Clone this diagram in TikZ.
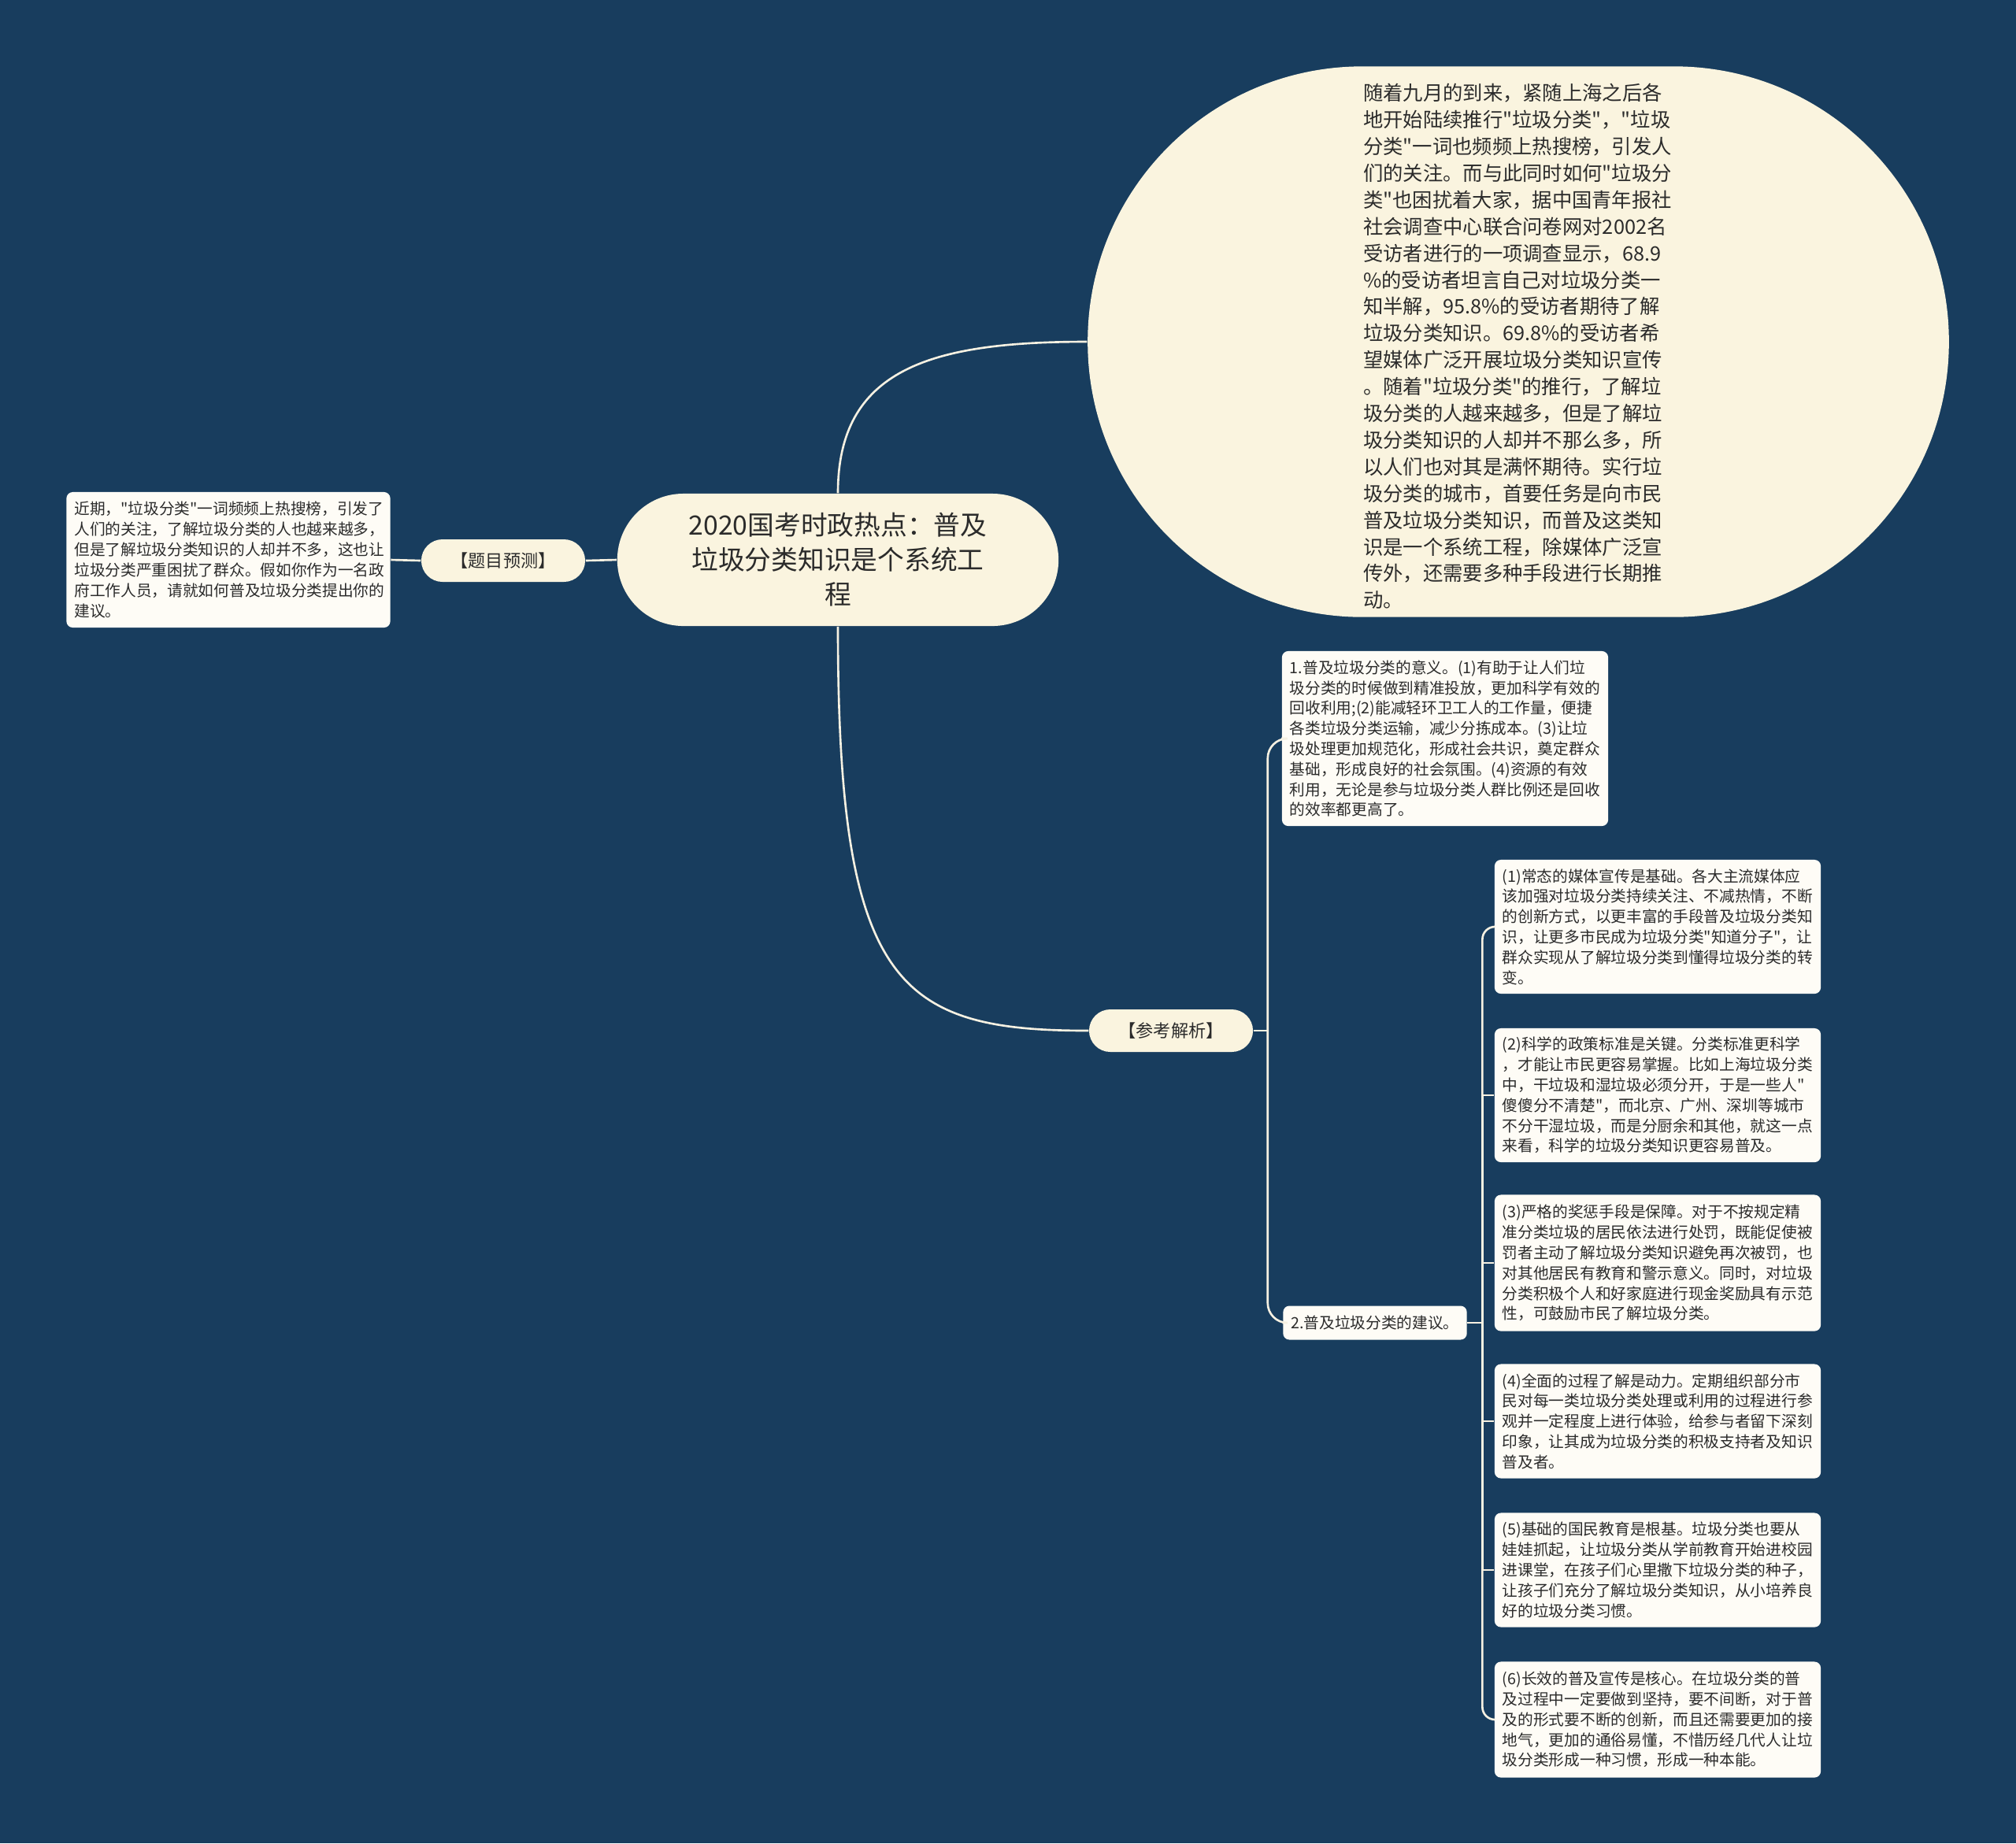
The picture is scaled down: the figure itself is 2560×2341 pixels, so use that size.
\documentclass[tikz,border=0pt]{standalone}
\usepackage{fontspec}
\newfontfamily\cjkfont{Noto Sans CJK SC}
\usetikzlibrary{calc}
\definecolor{mapbg}{HTML}{183D5E}
\definecolor{cream}{HTML}{FAF4DF}
\definecolor{paper}{HTML}{FEFCF6}
\definecolor{wire}{HTML}{F6F1E2}
\definecolor{ink}{HTML}{2B2B2B}
\newcommand{\mapfont}[2]{\cjkfont\fontsize{#1}{#2}\selectfont}
\tikzset{
  rootnode/.style={fill=cream,rounded corners=0.84cm,minimum width=5.6cm,
    minimum height=1.68cm,inner sep=0pt,align=center,text=ink,
    font=\mapfont{9.6}{12.5}},
  bubble/.style={fill=cream,rounded corners=3.49cm,minimum width=10.93cm,
    minimum height=6.99cm,inner sep=0pt},
  bubbletext/.style={align=left,inner sep=0pt,text=ink,
    font=\mapfont{7.2}{9.64}},
  tag/.style={fill=cream,rounded corners=0.27cm,minimum width=2.08cm,
    minimum height=0.54cm,inner sep=0pt,text=ink,font=\mapfont{6.3}{7.5}},
  notebox/.style={fill=paper,rounded corners=0.08cm,inner xsep=0.1cm,
    inner ysep=0.03cm,align=left,text=ink,font=\mapfont{5.6}{7.34}},
  note/.style={notebox,text width=3.94cm},
  link/.style={draw=wire,line width=0.75pt},
}

\begin{document}
\begin{tikzpicture}[x=0.01cm,y=-0.01cm]
  \fill[mapbg] (0,0) rectangle (2560,2341);
  % centre and first level
  \node[rootnode] (root) at (1064,711) {2020国考时政热点：普及\\垃圾分类知识是个系统工\\程};
  \node[bubble] (intro) at (1928,434) {};
  \node[bubbletext] at (1927,440) {随着九月的到来，紧随上海之后各\\地开始陆续推行"垃圾分类"，"垃圾\\分类"一词也频频上热搜榜，引发人\\们的关注。而与此同时如何"垃圾分\\类"也困扰着大家，据中国青年报社\\社会调查中心联合问卷网对2002名\\受访者进行的一项调查显示，68.9\\\%的受访者坦言自己对垃圾分类一\\知半解，95.8\%的受访者期待了解\\垃圾分类知识。69.8\%的受访者希\\望媒体广泛开展垃圾分类知识宣传\\。随着"垃圾分类"的推行，了解垃\\圾分类的人越来越多，但是了解垃\\圾分类知识的人却并不那么多，所\\以人们也对其是满怀期待。实行垃\\圾分类的城市，首要任务是向市民\\普及垃圾分类知识，而普及这类知\\识是一个系统工程，除媒体广泛宣\\传外，还需要多种手段进行长期推\\动。};
  \node[tag] (ask) at (639,712) {【题目预测】};
  \node[note,text width=3.91cm,minimum height=1.72cm] (quiz) at (290,711) {近期，"垃圾分类"一词频频上热搜榜，引发了\\人们的关注，了解垃圾分类的人也越来越多，\\但是了解垃圾分类知识的人却并不多，这也让\\垃圾分类严重困扰了群众。假如你作为一名政\\府工作人员，请就如何普及垃圾分类提出你的\\建议。};
  \node[tag] (ana) at (1487,1309) {【参考解析】};
  % analysis
  \node[note,minimum height=2.22cm] (mean) at (1835,938) {1.普及垃圾分类的意义。(1)有助于让人们垃\\圾分类的时候做到精准投放，更加科学有效的\\回收利用;(2)能减轻环卫工人的工作量，便捷\\各类垃圾分类运输，减少分拣成本。(3)让垃\\圾处理更加规范化，形成社会共识，奠定群众\\基础，形成良好的社会氛围。(4)资源的有效\\利用，无论是参与垃圾分类人群比例还是回收\\的效率都更高了。};
  \node[notebox,minimum height=0.43cm] (tips) at (1746,1680) {2.普及垃圾分类的建议。};
  \node[note,minimum height=1.70cm] (t1) at (2105,1177) {(1)常态的媒体宣传是基础。各大主流媒体应\\该加强对垃圾分类持续关注、不减热情，不断\\的创新方式，以更丰富的手段普及垃圾分类知\\识，让更多市民成为垃圾分类"知道分子"，让\\群众实现从了解垃圾分类到懂得垃圾分类的转\\变。};
  \node[note,minimum height=1.70cm] (t2) at (2105,1391) {(2)科学的政策标准是关键。分类标准更科学\\，才能让市民更容易掌握。比如上海垃圾分类\\中，干垃圾和湿垃圾必须分开，于是一些人"\\傻傻分不清楚"，而北京、广州、深圳等城市\\不分干湿垃圾，而是分厨余和其他，就这一点\\来看，科学的垃圾分类知识更容易普及。};
  \node[note,minimum height=1.73cm] (t3) at (2105,1604) {(3)严格的奖惩手段是保障。对于不按规定精\\准分类垃圾的居民依法进行处罚，既能促使被\\罚者主动了解垃圾分类知识避免再次被罚，也\\对其他居民有教育和警示意义。同时，对垃圾\\分类积极个人和好家庭进行现金奖励具有示范\\性，可鼓励市民了解垃圾分类。};
  \node[note,minimum height=1.45cm] (t4) at (2105,1805) {(4)全面的过程了解是动力。定期组织部分市\\民对每一类垃圾分类处理或利用的过程进行参\\观并一定程度上进行体验，给参与者留下深刻\\印象，让其成为垃圾分类的积极支持者及知识\\普及者。};
  \node[note,minimum height=1.45cm] (t5) at (2105,1994) {(5)基础的国民教育是根基。垃圾分类也要从\\娃娃抓起，让垃圾分类从学前教育开始进校园\\进课堂，在孩子们心里撒下垃圾分类的种子，\\让孩子们充分了解垃圾分类知识，从小培养良\\好的垃圾分类习惯。};
  \node[note,minimum height=1.47cm] (t6) at (2105,2184) {(6)长效的普及宣传是核心。在垃圾分类的普\\及过程中一定要做到坚持，要不间断，对于普\\及的形式要不断的创新，而且还需要更加的接\\地气，更加的通俗易懂，不惜历经几代人让垃\\圾分类形成一种习惯，形成一种本能。};
  % connectors
  \draw[link] (root.west) -- (ask.east);
  \draw[link] (ask.west) -- (quiz.east);
  \draw[link] (root.north) .. controls +(0,-157) and +(-200,0) .. (intro.west);
  \draw[link] (root.south) .. controls +(0,455) and +(-243,0) .. (ana.west);
  \draw[link] (ana.east) -- ++(18,0) coordinate (fork);
  \draw[link,rounded corners=0.25cm] (fork) |- (mean.west);
  \draw[link,rounded corners=0.25cm] (fork) |- (tips.west);
  \draw[link] (tips.east) -- ++(19,0) coordinate (fork2);
  \foreach \n/\r in {t1/0.16cm,t2/0pt,t3/0pt,t4/0pt,t5/0pt,t6/0.16cm}
    \draw[link,rounded corners=\r] (fork2) |- (\n.west);
\end{tikzpicture}
\end{document}
